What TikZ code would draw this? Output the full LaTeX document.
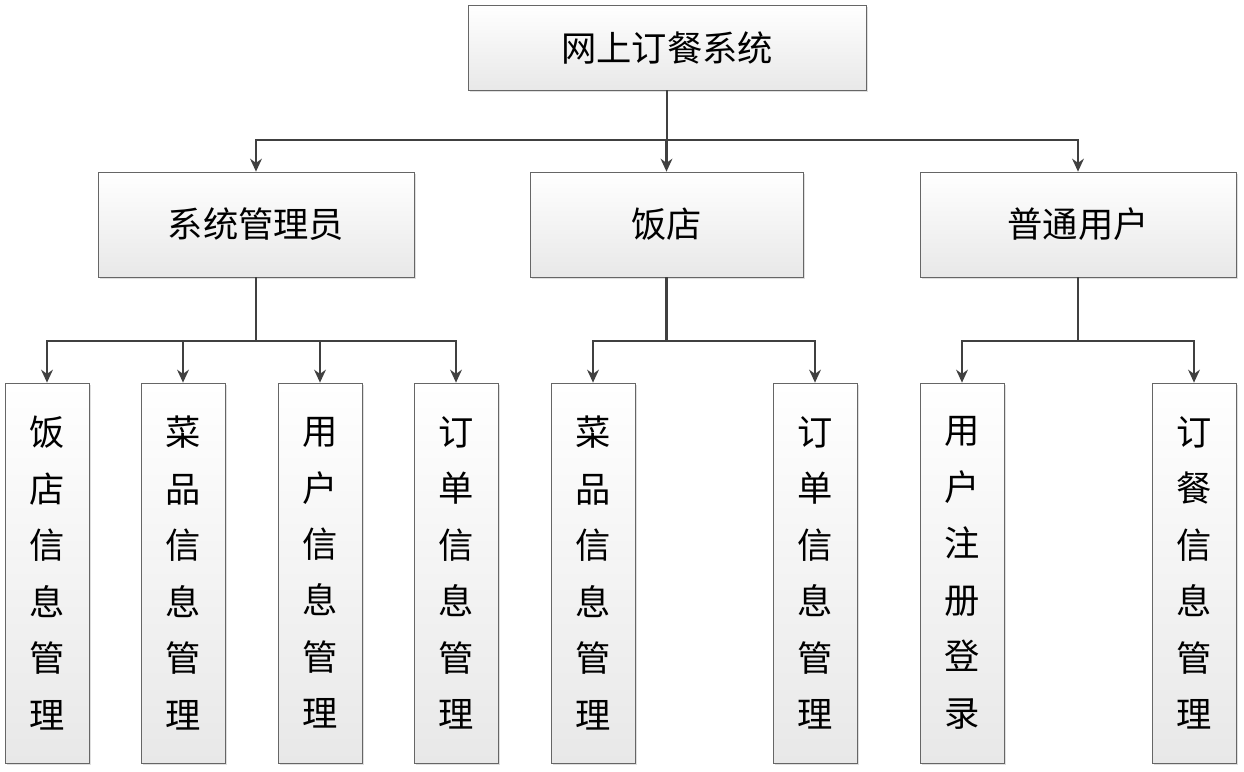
\documentclass[tikz,border=0pt]{standalone}
\usepackage{fontspec}
\newfontfamily\cjk{Noto Sans CJK SC}
\usetikzlibrary{shadows,arrows.meta,calc}
\begin{document}
\begin{tikzpicture}[x=0.85pt,y=-0.85pt,
 bx/.style={draw=gray!80!black,line width=0.6pt,top color=white,bottom color=gray!18,
   drop shadow={shadow xshift=2pt,shadow yshift=-2pt,fill=gray!50},inner sep=0pt,
   font=\cjk\fontsize{30}{48}\selectfont,align=center},
 ln/.style={draw=black!75,line width=1.8pt},
 ar/.style={ln,-{Stealth[length=11pt,width=10pt]}}]
\useasboundingbox (0,0) rectangle (1244,772);
\node[bx,minimum width=398*0.85pt,minimum height=85*0.85pt] (top) at (667,47.5) {网上订餐系统};
\foreach \n/\x/\w/\t in {a/256/316/系统管理员, b/666.5/273/饭店, c/1078/316/普通用户}
  \node[bx,minimum width=\w*0.85pt,minimum height=105*0.85pt] (\n) at (\x,224.5) {\t};
\foreach \n/\x/\t in {a1/47/饭\\店\\信\\息\\管\\理, a2/183/菜\\品\\信\\息\\管\\理, a3/320/用\\户\\信\\息\\管\\理, a4/456/订\\单\\信\\息\\管\\理,
  b1/593/菜\\品\\信\\息\\管\\理, b2/815/订\\单\\信\\息\\管\\理, c1/962/用\\户\\注\\册\\登\\录, c2/1194/订\\餐\\信\\息\\管\\理}
  \node[bx,minimum width=84*0.85pt,minimum height=380*0.85pt] (\n) at (\x,573) {\t};
\coordinate (j0) at (667,140);
\draw[ln] (top.south) -- (j0);
\foreach \n in {a,b,c} \draw[ar] (j0) -| (\n.north);
\foreach \p/\ks in {a/{a1,a2,a3,a4}, b/{b1,b2}, c/{c1,c2}} {
  \coordinate (\p j) at ($(\p.south)+(0,64)$);
  \draw[ln] (\p.south) -- (\p j);
  \foreach \k in \ks \draw[ar] (\p j) -| (\k.north);
}
\end{tikzpicture}
\end{document}
